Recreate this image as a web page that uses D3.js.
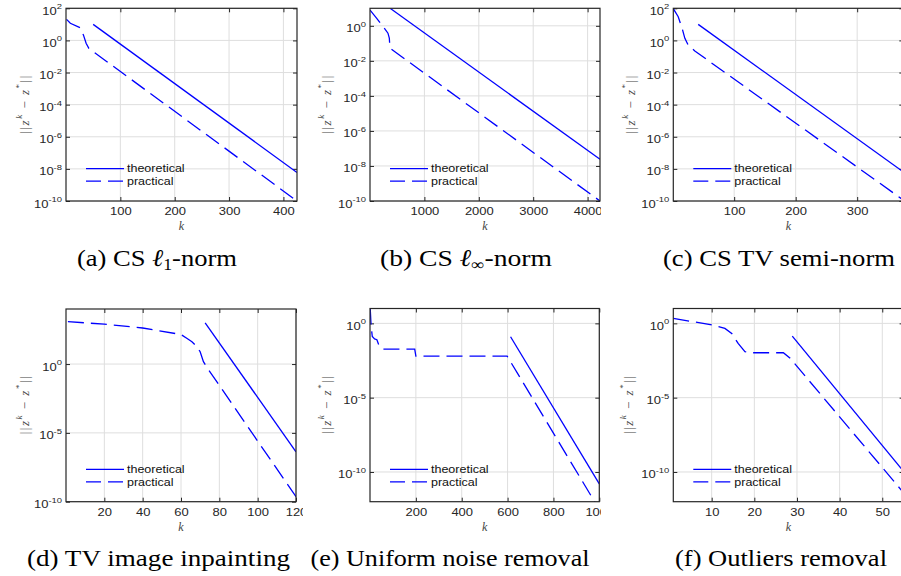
<!DOCTYPE html>
<html>
<head>
<meta charset="utf-8">
<script src="https://cdn.jsdelivr.net/npm/d3@7"></script>
<style>
body { margin: 0; background: #fff; }
svg { display: block; }
</style>
</head>
<body>
<svg width="901" height="576"></svg>
<script>
// values: [k, ||z^k - z*||]
const aTheoretical = [[50, 10], [425, 6.0e-9]]
const aPractical = [[1, 20.4], [8, 11.6], [26, 6.2], [32, 2.2], [37, 0.66], [42, 0.32], [425, 1.0e-10]]
const bTheoretical = [[370, 10], [4228, 2.4e-8]]
const bPractical = [[1, 7.9], [120, 2.75], [240, 0.91], [330, 0.38], [355, 0.2], [365, 0.066], [390, 0.047], [4228, 1.0e-10]]
const cTheoretical = [[41.5, 10], [375, 6.5e-9]]
const cPractical = [[1, 95], [9, 30], [15.4, 5.6], [19.8, 1.35], [25.2, 0.51], [36, 0.22], [375, 1.15e-10]]
const dTheoretical = [[72.6, 1000], [120, 4.2e-7]]
const dPractical = [[1, 1200], [20, 790], [40, 417], [60, 141], [63, 74], [65.7, 42], [68.3, 18], [70, 7.9], [71.7, 1.5], [73.5, 0.58], [120, 2.3e-10]]
const eTheoretical = [[613, 0.126], [1000, 1.6e-11]]
const ePractical = [[1, 10], [5, 0.6], [10, 0.13], [20, 0.09], [30, 0.08], [40, 0.03], [55, 0.0186], [195, 0.0186], [200, 0.0063], [598, 0.0063], [1000, 3e-13]]
const fTheoretical = [[28.9, 0.14], [55, 1.1e-10]]
const fPractical = [[1, 2.2], [10, 0.78], [13.1, 0.46], [14.7, 0.21], [16.2, 0.045], [17.8, 0.0123], [19.4, 0.0105], [26.8, 0.0105], [28.4, 0.0045], [55, 4e-12]]

// ticks
const aXTicks = [100, 200, 300, 400]
const bXTicks = [1000, 2000, 3000, 4000]
const cXTicks = [100, 200, 300]
const dXTicks = [20, 40, 60, 80, 100, 120]
const eXTicks = [200, 400, 600, 800, 1000]
const fXTicks = [10, 20, 30, 40, 50]
const topYTicks = [2, 0, -2, -4, -6, -8, -10]     // exponents
const bYTicks = [0, -2, -4, -6, -8, -10]
const bottomYTicks = [0, -5, -10]

const legendLabels = ['theoretical', 'practical']
const captions = [
	['(a) CS ', 'ℓ', '1', '-norm'],
	['(b) CS ', 'ℓ', '∞', '-norm'],
	['(c) CS TV semi-norm'],
	['(d) TV image inpainting'],
	['(e) Uniform noise removal'],
	['(f) Outliers removal']
]

// layout of each subfigure
const panels = [
	{theo: aTheoretical, prac: aPractical, xTicks: aXTicks, yTicks: topYTicks, xDom: [0, 425], yDom: [1e-10, 1e2],
		left: 66, right: 297, top: 8.3, bottom: 201, clip: 303, ylx: 24, cap: 0, capX: 157, capW: 160, capY: 266},
	{theo: bTheoretical, prac: bPractical, xTicks: bXTicks, yTicks: bYTicks, xDom: [0, 4228], yDom: [1e-10, 10],
		left: 370, right: 600, top: 8.3, bottom: 201, clip: 601, ylx: 326, cap: 1, capX: 466, capW: 172, capY: 266},
	{theo: cTheoretical, prac: cPractical, xTicks: cXTicks, yTicks: topYTicks, xDom: [1, 375], yDom: [1e-10, 1e2],
		left: 673.3, right: 903.3, top: 8.3, bottom: 201, clip: 901, ylx: 630, cap: 2, capX: 779, capW: 232, capY: 266},
	{theo: dTheoretical, prac: dPractical, xTicks: dXTicks, yTicks: bottomYTicks, xDom: [0, 120], yDom: [1e-10, 1e4],
		left: 66, right: 296, top: 309, bottom: 501.7, clip: 303, ylx: 24, cap: 3, capX: 158.5, capW: 263, capY: 566},
	{theo: eTheoretical, prac: ePractical, xTicks: eXTicks, yTicks: bottomYTicks, xDom: [0, 1000], yDom: [1e-12, 10],
		left: 370, right: 599.3, top: 308.5, bottom: 501.7, clip: 601, ylx: 326, cap: 4, capX: 450, capW: 279, capY: 566},
	{theo: fTheoretical, prac: fPractical, xTicks: fXTicks, yTicks: bottomYTicks, xDom: [1, 55], yDom: [1e-12, 10],
		left: 673.3, right: 903.6, top: 308.5, bottom: 501.7, clip: 901, ylx: 628, cap: 5, capX: 781, capW: 212, capY: 566}
]

const svg = d3.select('svg')
const defs = svg.append('defs')
const axisColor = '#262626'
const blue = '#0000ff'
const sans = "'Liberation Sans', Arial, sans-serif"
const serif = "'Liberation Serif', 'Times New Roman', serif"
const stretch = 1.18   // the figure was widened when placed in the page

function drawPanel(p, i) {
	const x = d3.scaleLinear().domain(p.xDom).range([p.left, p.right])
	const y = d3.scaleLog().domain(p.yDom).range([p.bottom, p.top])
	const w = p.right - p.left
	const h = p.bottom - p.top

	defs.append('clipPath').attr('id', 'fig' + i).append('rect')
		.attr('x', p.left - 80).attr('y', 0).attr('width', p.clip - p.left + 80).attr('height', 576)
	defs.append('clipPath').attr('id', 'plot' + i).append('rect')
		.attr('x', p.left).attr('y', p.top).attr('width', w).attr('height', h)

	const g = svg.append('g').attr('clip-path', 'url(#fig' + i + ')')

	// grid
	const grid = g.append('g').attr('stroke', '#dedede').attr('stroke-width', 1)
	grid.selectAll('.gx').data(p.xTicks).enter().append('line')
		.attr('x1', d => x(d)).attr('x2', d => x(d)).attr('y1', p.top).attr('y2', p.bottom)
	grid.selectAll('.gy').data(p.yTicks).enter().append('line')
		.attr('x1', p.left).attr('x2', p.right)
		.attr('y1', d => y(Math.pow(10, d))).attr('y2', d => y(Math.pow(10, d)))

	// x axis (ticks inward)
	const xa = g.append('g').attr('transform', 'translate(0,' + p.bottom + ')')
		.call(d3.axisBottom(x).tickValues(p.xTicks).tickFormat(d3.format('d'))
			.tickSizeInner(-4).tickSizeOuter(0).tickPadding(6.5))
	xa.select('.domain').remove()
	xa.selectAll('line').attr('stroke', axisColor)
	xa.selectAll('text').attr('fill', axisColor).attr('font-family', sans).attr('font-size', 11)
		.attr('transform', 'scale(' + stretch + ',1)')

	g.append('g').attr('transform', 'translate(0,' + p.top + ')')
		.call(d3.axisTop(x).tickValues(p.xTicks).tickSizeInner(-4).tickSizeOuter(0).tickFormat(''))
		.call(s => { s.select('.domain').remove(); s.selectAll('line').attr('stroke', axisColor) })

	// y axis, labels as 10 with exponent
	const yvals = p.yTicks.map(e => Math.pow(10, e))
	const ya = g.append('g').attr('transform', 'translate(' + p.left + ',0)')
		.call(d3.axisLeft(y).tickValues(yvals).tickSizeInner(-4).tickSizeOuter(0).tickFormat(''))
	ya.select('.domain').remove()
	ya.selectAll('line').attr('stroke', axisColor)
	ya.selectAll('.tick').append('text')
		.attr('transform', 'translate(-4,6) scale(' + stretch + ',1)')
		.attr('text-anchor', 'end').attr('fill', axisColor)
		.attr('font-family', sans).attr('font-size', 11)
		.each(function(d) {
			const t = d3.select(this)
			t.append('tspan').text('10')
			t.append('tspan').attr('dy', -5.5).attr('font-size', 8).text(Math.round(Math.log10(d)))
		})
	g.append('g').attr('transform', 'translate(' + p.right + ',0)')
		.call(d3.axisRight(y).tickValues(yvals).tickSizeInner(-4).tickSizeOuter(0).tickFormat(''))
		.call(s => { s.select('.domain').remove(); s.selectAll('line').attr('stroke', axisColor) })

	// curves
	const line = d3.line().x(d => x(d[0])).y(d => y(d[1]))
	const plot = g.append('g').attr('clip-path', 'url(#plot' + i + ')')
	plot.append('path').datum(p.theo).attr('d', line)
		.attr('fill', 'none').attr('stroke', blue).attr('stroke-width', 1.3)
	plot.append('path').datum(p.prac).attr('d', line)
		.attr('fill', 'none').attr('stroke', blue).attr('stroke-width', 1.3).attr('stroke-dasharray', '16,7')

	// box
	g.append('rect').attr('x', p.left).attr('y', p.top).attr('width', w).attr('height', h)
		.attr('fill', 'none').attr('stroke', axisColor).attr('stroke-width', 1.2)

	// legend
	const lg = g.append('g').attr('font-family', sans).attr('font-size', 10.6)
	legendLabels.forEach((lab, j) => {
		const ly = p.bottom - 32.3 + j * 12.5
		lg.append('line').attr('x1', p.left + 20).attr('x2', p.left + 58).attr('y1', ly).attr('y2', ly)
			.attr('stroke', blue).attr('stroke-width', 1.3).attr('stroke-dasharray', j ? '15,7' : null)
		lg.append('text').attr('transform', 'translate(' + (p.left + 61) + ',' + ly + ') scale(' + stretch + ',1)')
			.attr('dominant-baseline', 'central').attr('fill', '#111').text(lab)
	})

	// axis labels
	g.append('text').attr('x', (p.left + p.right) / 2).attr('y', p.bottom + 25)
		.attr('text-anchor', 'middle').attr('dominant-baseline', 'central')
		.attr('font-family', serif).attr('font-style', 'italic').attr('font-size', 12)
		.attr('fill', '#444').text('k')

	const yl = g.append('text')
		.attr('transform', 'translate(' + p.ylx + ',' + ((p.top + p.bottom) / 2) + ') rotate(-90)')
		.attr('text-anchor', 'middle').attr('dominant-baseline', 'central')
		.attr('font-family', serif).attr('font-size', 13).attr('fill', '#444')
		.attr('textLength', 58).attr('lengthAdjust', 'spacing')
	yl.append('tspan').text('||')
	yl.append('tspan').attr('font-style', 'italic').text('z')
	yl.append('tspan').attr('dy', -5).attr('font-size', 9).attr('font-style', 'italic').text('k')
	yl.append('tspan').attr('dy', 5).text(' − ')
	yl.append('tspan').attr('font-style', 'italic').text('z')
	yl.append('tspan').attr('dy', -5).attr('font-size', 9).text('*')
	yl.append('tspan').attr('dy', 5).text('||')

	// caption
	const c = captions[p.cap]
	const ct = svg.append('text').attr('x', p.capX).attr('y', p.capY).attr('text-anchor', 'middle')
		.attr('font-family', serif).attr('font-size', 24).attr('fill', '#000')
		.attr('textLength', p.capW).attr('lengthAdjust', 'spacingAndGlyphs')
	if (c.length === 1) {
		ct.text(c[0])
	} else {
		ct.append('tspan').text(c[0])
		ct.append('tspan').attr('font-style', 'italic').text(c[1])
		ct.append('tspan').attr('dy', 4).attr('font-size', 16).text(c[2])
		ct.append('tspan').attr('dy', -4).text(c[3])
	}
}

panels.forEach(drawPanel)
</script>
</body>
</html>
